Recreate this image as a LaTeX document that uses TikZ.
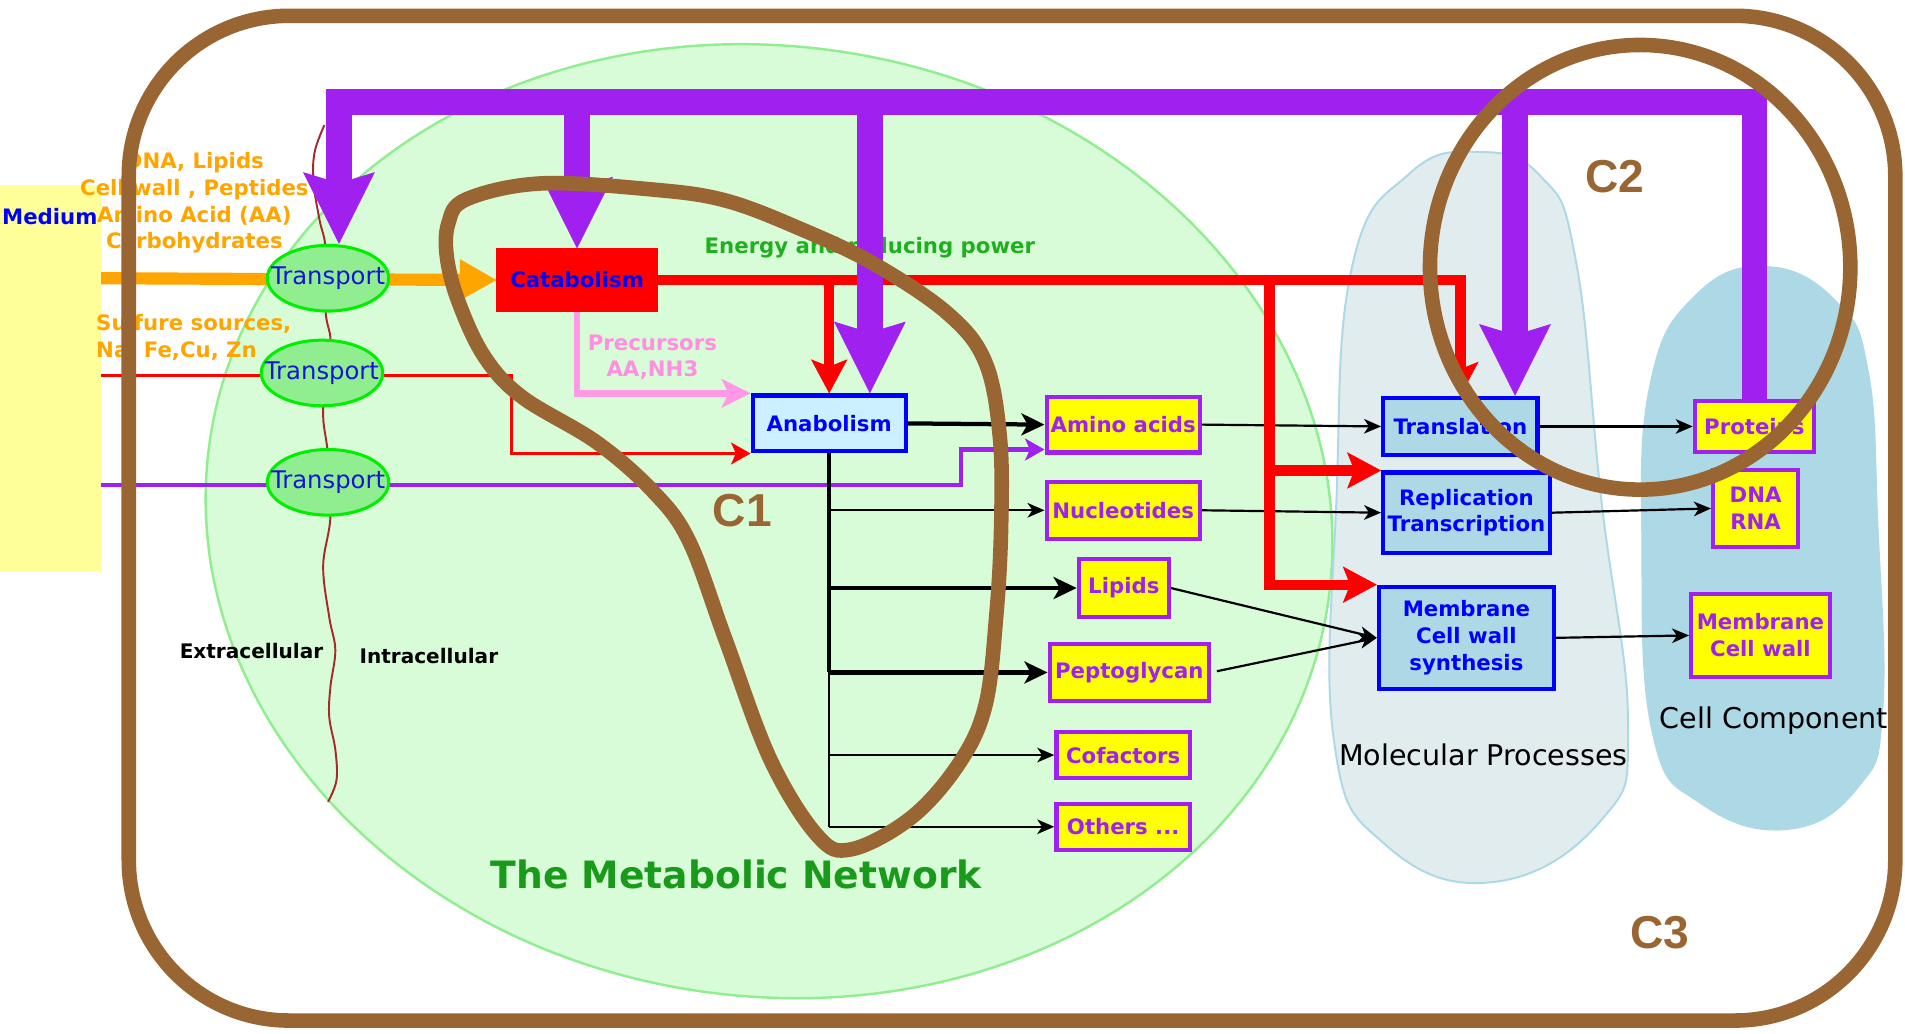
\documentclass[tikz,border=0pt]{standalone}
\usepackage{fontspec}
\setmainfont{DejaVu Sans}
\newfontfamily\tagfont{Liberation Sans}
\usepackage{tikz}
\usetikzlibrary{arrows.meta,shapes.geometric}
\definecolor{cellbrown}{HTML}{996633}
\definecolor{flowpurple}{HTML}{A020F0}
\definecolor{floworange}{HTML}{FFA500}
\definecolor{flowred}{HTML}{FF0000}
\definecolor{flowpink}{HTML}{FF99E6}
\definecolor{textpink}{HTML}{FF8FE0}
\definecolor{metayellow}{HTML}{FFFF00}
\definecolor{medyellow}{HTML}{FFFF99}
\definecolor{procblue}{HTML}{0000FF}
\definecolor{textblue}{HTML}{1414D8}
\definecolor{proclight}{HTML}{ADD8E6}
\definecolor{anafill}{HTML}{CCF0FF}
\definecolor{netfill}{HTML}{D8FCD8}
\definecolor{netline}{HTML}{90EE90}
\definecolor{transfill}{HTML}{90EE90}
\definecolor{transline}{HTML}{00EE00}
\definecolor{molfill}{HTML}{E0ECEE}
\definecolor{molline}{HTML}{ADD8E6}
\definecolor{compfill}{HTML}{ADD8E6}
\definecolor{membranered}{HTML}{A52A2A}
\definecolor{energygreen}{HTML}{1FB01F}
\definecolor{netgreen}{HTML}{1A9A1A}
\newcommand{\lblfont}{\fontsize{17.5}{22}\selectfont\bfseries}
\pgfdeclarelayer{bg}
\pgfdeclarelayer{flow}
\pgfdeclarelayer{top}
\pgfsetlayers{bg,flow,main,top}
\tikzset{
  metabox/.style={
    rectangle, draw=flowpurple, line width=3.5pt, fill=metayellow,
    text=flowpurple, inner sep=0pt, align=center, font=\lblfont
  },
  procbox/.style={
    rectangle, draw=procblue, line width=3.5pt, fill=proclight,
    text=procblue, inner sep=0pt, align=center, font=\lblfont
  },
  catbox/.style={
    rectangle, draw=flowred, line width=1pt, fill=flowred,
    text=procblue, inner sep=0pt, font=\lblfont
  },
  transnode/.style={
    ellipse, draw=transline, line width=2.5pt, fill=transfill,
    minimum width=100pt, minimum height=54pt, inner sep=0pt,
    text=textblue, font=\fontsize{20}{24}\selectfont
  },
  medbox/.style={rectangle, draw=none, fill=medyellow, inner sep=0pt},
  plaintext/.style={inner sep=0pt, align=center, font=\lblfont},
  tagtext/.style={inner sep=0pt, text=cellbrown, font=\tagfont\bfseries\fontsize{38}{44}\selectfont},
  areatext/.style={inner sep=0pt, font=\fontsize{23.5}{28}\selectfont},
  thinarrow/.style={-{Stealth[length=14pt,width=12pt,inset=4pt]}, line width=1.8pt},
  thickarrow/.style={-{Stealth[length=19pt,width=18pt,inset=5pt]}, line width=3.5pt},
  redflow/.style={-{Stealth[length=28pt,width=30pt,inset=6pt,line width=0.5pt]}, line width=8.5pt, draw=flowred},
  redthin/.style={-{Stealth[length=16pt,width=18pt,inset=4pt]}, line width=2.5pt, draw=flowred},
  purplethin/.style={-{Stealth[length=16pt,width=18pt,inset=4pt]}, line width=3.5pt, draw=flowpurple},
  purpleflow/.style={-{Stealth[length=59pt,width=59pt,inset=9pt,line width=0.5pt]}, line width=21pt, draw=flowpurple},
  pinkflow/.style={-{Stealth[length=24pt,width=24pt,inset=6pt,line width=0.5pt]}, line width=5.5pt, draw=flowpink},
  orangeflow/.style={-{Triangle[length=30pt,width=34pt,line width=0.5pt]}, line width=10pt, draw=floworange},
  brownline/.style={draw=cellbrown, line width=12pt},
  membrane/.style={draw=membranered, line width=1.6pt},
}

\begin{document}
\begin{tikzpicture}[x=1pt,y=-1pt]
  \useasboundingbox (0,0) rectangle (1568,851);
  \begin{pgfonlayer}{bg}
    \fill[white] (0,0) rectangle (1568,851);
    % metabolic network and the two areas on the right
    \filldraw[fill=netfill, draw=netline, line width=2pt, rotate around={-8:(633,429)}] (633,429) ellipse [x radius=465, y radius=391];
    \filldraw[fill=molfill, draw=molline, line width=1.6pt] plot[smooth cycle, tension=0.75] coordinates {(1216,125) (1268,145) (1297,214) (1318,411) (1340,595) (1318,675) (1229,726) (1140,695) (1098,610) (1100,411) (1113,219) (1160,143)};
    \fill[compfill] plot[smooth cycle, tension=0.75] coordinates {(1454,219) (1512,248) (1538,305) (1546,430) (1550,585) (1530,648) (1472,683) (1400,662) (1360,605) (1351,450) (1358,315) (1395,243)};
    % cell membrane
    \draw[membrane] plot[smooth, tension=0.6] coordinates {(267,103) (259,125) (258,150) (263,181) (268,205) (268,256) (272,280) (268,310) (266,343) (270,375) (272,425) (266,466) (271,508) (276,535) (272,565) (271,590) (276,617) (277,642) (270,660)};
  \end{pgfonlayer}

  \node[medbox, minimum width=83pt, minimum height=318pt] (med) at (41.5,311) {};
  \node[plaintext, text=procblue] (medlbl) at (41,178) {Medium};
  \node[plaintext, text=floworange] (srcA) at (160,167) {DNA, Lipids\\Cell wall , Peptides\\Amino Acid (AA)\\Carbohydrates};
  \node[plaintext, text=floworange, align=left, anchor=west] (srcB) at (79,278) {Sulfure sources,\\Na, Fe,Cu, Zn};

  \node[transnode] (tr1) at (270,229) {\makebox[0pt]{Transport}};
  \node[transnode] (tr2) at (265,307) {\makebox[0pt]{Transport}};
  \node[transnode] (tr3) at (270,397) {\makebox[0pt]{Transport}};

  \node[catbox, minimum width=132pt, minimum height=51pt] (cat) at (475,230.5) {Catabolism};
  \node[procbox, fill=anafill, minimum width=126pt, minimum height=46pt] (ana) at (682.5,348.5) {Anabolism};
  \node[plaintext, text=energygreen] (energy) at (716,204) {Energy and reducing power};
  \node[plaintext, text=textpink] (prec) at (537,294) {Precursors\\AA,NH3};

  \node[metabox, minimum width=126pt, minimum height=46pt] (aa) at (924.5,349.5) {Amino acids};
  \node[metabox, minimum width=126pt, minimum height=47pt] (nuc) at (924.5,420) {Nucleotides};
  \node[metabox, minimum width=74pt, minimum height=48pt] (lip) at (925,484) {Lipids};
  \node[metabox, minimum width=131pt, minimum height=47pt] (pep) at (929.5,553.5) {Peptoglycan};
  \node[metabox, minimum width=110pt, minimum height=38pt] (cof) at (924.5,621.5) {Cofactors};
  \node[metabox, minimum width=110pt, minimum height=38pt] (oth) at (924.5,680.5) {Others ...};

  \node[procbox, minimum width=127pt, minimum height=47pt] (trl) at (1202,351) {Translation};
  \node[procbox, minimum width=137pt, minimum height=66pt] (rep) at (1207,422) {Replication\\Transcription};
  \node[procbox, minimum width=144pt, minimum height=84pt] (mem) at (1207,525) {Membrane\\Cell wall\\synthesis};

  \node[metabox, minimum width=98pt, minimum height=42pt] (prot) at (1444,351) {Proteins};
  \node[metabox, minimum width=70pt, minimum height=63pt] (dna) at (1445,418.5) {DNA\\RNA};
  \node[metabox, minimum width=114pt, minimum height=68pt] (mcw) at (1449,523) {Membrane\\Cell wall};

  \node[plaintext, font=\fontsize{16.5}{20}\selectfont\bfseries] (extra) at (207,536) {Extracellular};
  \node[plaintext, font=\fontsize{16.5}{20}\selectfont\bfseries] (intra) at (353,540) {Intracellular};
  \node[plaintext, text=netgreen, font=\fontsize{31}{36}\selectfont\bfseries] (netlbl) at (606,720) {The Metabolic Network};
  \node[areatext] (mollbl) at (1221,621) {Molecular Processes};
  \node[areatext] (complbl) at (1460,593) {Cell Component};

  \coordinate (rtA) at (421,309);
  \coordinate (ptA) at (791,399);
  \coordinate (ptB) at (aa.west |- 0,370);
  \coordinate (rsplit) at (1045,230.5);

  \begin{pgfonlayer}{flow}
    \draw[orangeflow] (med.east |- tr1) -- (cat.west);
    \draw[redthin] (med.east |- rtA) -- (rtA) |- (ana.south west);
    \draw[purplethin] (med.east |- ptA) -- (ptA) |- (ptB);
    \draw[pinkflow] (cat.south) |- (ana.north west);

    \draw[thickarrow] (ana.east) -- (aa.west);
    \draw[line width=3.5pt] (ana.south) -- (ana.south |- pep.west);
    \draw[line width=1.8pt] (ana.south |- pep.west) -- (ana.south |- oth.west);
    \draw[thinarrow] (ana.south |- nuc.west) -- (nuc.west);
    \draw[thickarrow] (ana.south |- lip.west) -- (lip.west);
    \draw[thickarrow] (ana.south |- pep.west) -- (pep.west);
    \draw[thinarrow] (ana.south |- cof.west) -- (cof.west);
    \draw[thinarrow] (ana.south |- oth.west) -- (oth.west);

    \draw[thinarrow] (aa.east) -- (trl.west);
    \draw[thinarrow] (nuc.east) -- (rep.west);
    \draw[thinarrow] (lip.east) -- (mem.west);
    \draw[thinarrow, shorten <=5pt] (pep.east) -- (mem.west);
    \draw[thinarrow] (trl.east) -- (prot.west);
    \draw[thinarrow] (rep.east) -- (dna.west);
    \draw[thinarrow] (mem.east) -- (mcw.west);

    \draw[redflow] (cat.east) -| (trl.north);
    \draw[redflow] (cat.east -| ana.north) -- (ana.north);
    \draw[redflow] (rsplit) |- (rep.north west);
    \draw[redflow] (rsplit) |- (mem.north west);
  \end{pgfonlayer}

  \begin{pgfonlayer}{top}
    \coordinate (pbR) at (prot.north |- 0,84);
    \coordinate (pbL) at (279,84);
    \coordinate (pbA) at (716,84);
    \coordinate (pbT) at (1247,84);
    \draw[purpleflow] (prot.north) -- (pbR) -- (pbL) -- (tr1.north -| pbL);
    \draw[purpleflow] (cat.north |- pbL) -- (cat.north);
    \draw[purpleflow] (pbA) -- (ana.north -| pbA);
    \draw[purpleflow] (pbT) -- (trl.north -| pbT);

    % cell outline and the three highlighted parts
    \draw[brownline, rounded corners=132pt] (106,13) rectangle (1560,840);
    \draw[brownline] plot[smooth cycle, tension=0.6] coordinates {(369,184) (384,164) (445,151) (537,156) (597,165) (658,188) (719,217) (780,258) (811,298) (823,360) (824,434) (820,507) (811,581) (789,629) (750,673) (701,699) (673,688) (634,625) (597,526) (567,445) (537,404) (491,364) (430,327) (399,294) (378,250) (368,213)};
    \draw[brownline] (1350,220) ellipse [x radius=173, y radius=183];
    \node[tagtext] (c1) at (611,420) {C1};
    \node[tagtext] (c2) at (1329,145) {C2};
    \node[tagtext] (c3) at (1366,768) {C3};
  \end{pgfonlayer}
\end{tikzpicture}
\end{document}
